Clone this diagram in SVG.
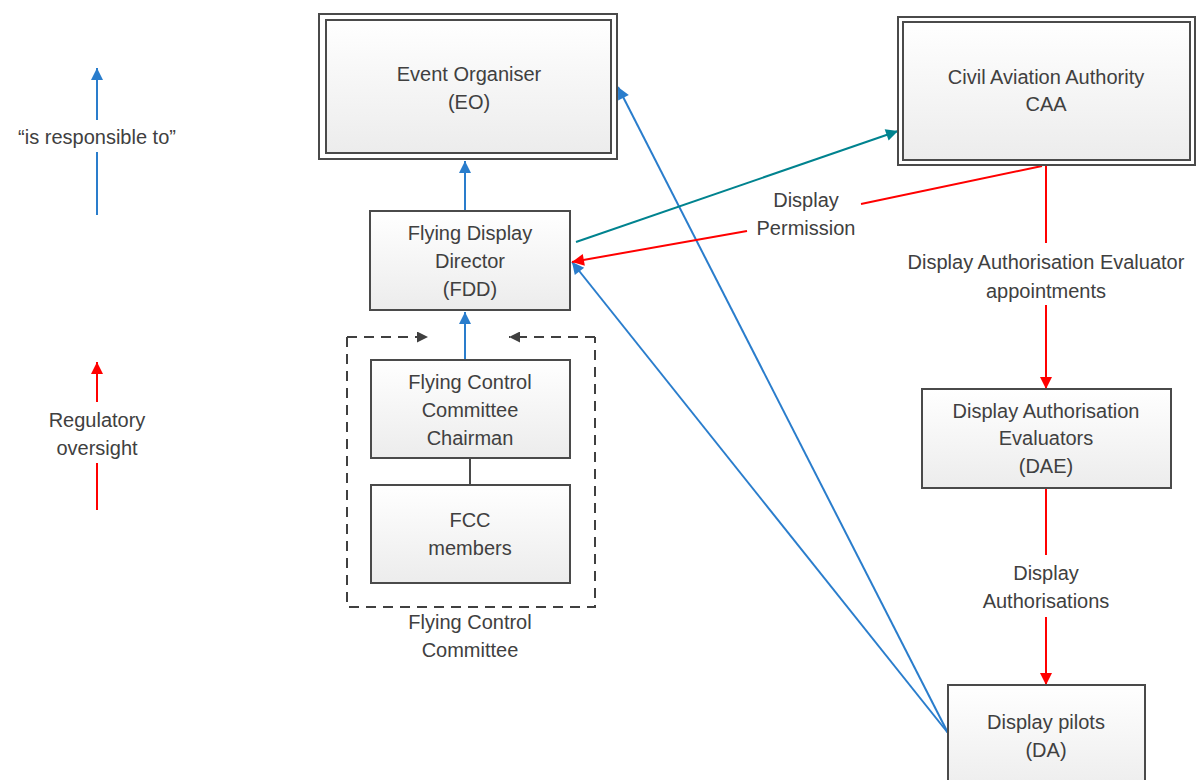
<svg xmlns="http://www.w3.org/2000/svg" width="1198" height="780" viewBox="0 0 1198 780">
<defs>
<linearGradient id="g" x1="0" y1="0" x2="0" y2="1"><stop offset="0" stop-color="#ffffff"/><stop offset="1" stop-color="#ececec"/></linearGradient>
<marker id="ab" viewBox="0 0 10 10" refX="10" refY="5" markerWidth="14" markerHeight="12" markerUnits="userSpaceOnUse" orient="auto"><path d="M0,0 L10,5 L0,10 z" fill="#2a7dcc"/></marker>
<marker id="ar" viewBox="0 0 10 10" refX="10" refY="5" markerWidth="14" markerHeight="12" markerUnits="userSpaceOnUse" orient="auto"><path d="M0,0 L10,5 L0,10 z" fill="#ff0000"/></marker>
<marker id="at" viewBox="0 0 10 10" refX="10" refY="5" markerWidth="14" markerHeight="12" markerUnits="userSpaceOnUse" orient="auto"><path d="M0,0 L10,5 L0,10 z" fill="#00838f"/></marker>
<marker id="ag" viewBox="0 0 10 10" refX="10" refY="5" markerWidth="13" markerHeight="11" markerUnits="userSpaceOnUse" orient="auto"><path d="M0,0 L10,5 L0,10 z" fill="#404040"/></marker>
</defs>
<style>
text{font-family:"Liberation Sans",Arial,sans-serif;font-size:20px;fill:#404040;text-anchor:middle}
.box{fill:url(#g);stroke:#4a4a4a;stroke-width:2}
.outer{fill:#fff;stroke:#4a4a4a;stroke-width:2}
.blue{stroke:#2a7dcc;stroke-width:2;fill:none}
.red{stroke:#ff0000;stroke-width:2;fill:none}
.teal{stroke:#00838f;stroke-width:2;fill:none}
.dash{stroke:#404040;stroke-width:2;fill:none;stroke-dasharray:10,7}
</style>
<rect width="1198" height="780" fill="#fff"/>
<g id="legend">
<line class="blue" x1="97" y1="215" x2="97" y2="152"/>
<line class="blue" x1="97" y1="120" x2="97" y2="68" marker-end="url(#ab)"/>
<text x="97" y="144">“is responsible to”</text>
<line class="red" x1="97" y1="510" x2="97" y2="463"/>
<line class="red" x1="97" y1="402" x2="97" y2="362" marker-end="url(#ar)"/>
<text x="97" y="427">Regulatory</text>
<text x="97" y="455">oversight</text>
</g>
<g id="connectors">
<line class="blue" x1="465" y1="211" x2="465" y2="161" marker-end="url(#ab)"/>
<line class="blue" x1="465" y1="360" x2="465" y2="312" marker-end="url(#ab)"/>
<line x1="470" y1="458" x2="470" y2="485" stroke="#4a4a4a" stroke-width="2"/>
<line class="blue" x1="948" y1="733" x2="618" y2="87" marker-end="url(#ab)"/>
<line class="blue" x1="948" y1="733" x2="572" y2="262" marker-end="url(#ab)"/>
<line class="teal" x1="576" y1="242" x2="898" y2="131" marker-end="url(#at)"/>
<line class="red" x1="1042" y1="166" x2="861" y2="204"/>
<line class="red" x1="747" y1="231" x2="572" y2="262" marker-end="url(#ar)"/>
<line class="red" x1="1046" y1="166" x2="1046" y2="243"/>
<line class="red" x1="1046" y1="305" x2="1046" y2="389" marker-end="url(#ar)"/>
<line class="red" x1="1046" y1="489" x2="1046" y2="555"/>
<line class="red" x1="1046" y1="617" x2="1046" y2="685" marker-end="url(#ar)"/>
<text x="806" y="207">Display</text>
<text x="806" y="235">Permission</text>
<text x="1046" y="269">Display Authorisation Evaluator</text>
<text x="1046" y="298">appointments</text>
<text x="1046" y="580">Display</text>
<text x="1046" y="608">Authorisations</text>
</g>
<g id="eo">
<rect class="outer" x="319" y="14" width="298" height="145"/>
<rect class="box" x="326" y="20" width="285" height="133"/>
<text x="469" y="81">Event Organiser</text>
<text x="469" y="109">(EO)</text>
</g>
<g id="caa">
<rect class="outer" x="898" y="17" width="297" height="148"/>
<rect class="box" x="903" y="22" width="287" height="138"/>
<text x="1046" y="84">Civil Aviation Authority</text>
<text x="1046" y="111">CAA</text>
</g>
<g id="fdd">
<rect class="box" x="370" y="211" width="200" height="99"/>
<text x="470" y="240">Flying Display</text>
<text x="470" y="268">Director</text>
<text x="470" y="296">(FDD)</text>
</g>
<g id="fcc">
<path class="dash" d="M347,337 L347,607 L595,607 L595,337"/>
<line class="dash" x1="347" y1="337" x2="428" y2="337" marker-end="url(#ag)"/>
<line class="dash" x1="595" y1="337" x2="509" y2="337" marker-end="url(#ag)"/>
<text x="470" y="629">Flying Control</text>
<text x="470" y="657">Committee</text>
</g>
<g id="fccc">
<rect class="box" x="371" y="360" width="199" height="98"/>
<text x="470" y="389">Flying Control</text>
<text x="470" y="417">Committee</text>
<text x="470" y="445">Chairman</text>
</g>
<g id="fccm">
<rect class="box" x="371" y="485" width="199" height="98"/>
<text x="470" y="527">FCC</text>
<text x="470" y="555">members</text>
</g>
<g id="dae">
<rect class="box" x="922" y="389" width="249" height="99"/>
<text x="1046" y="418">Display Authorisation</text>
<text x="1046" y="445">Evaluators</text>
<text x="1046" y="473">(DAE)</text>
</g>
<g id="da">
<rect class="box" x="948" y="685" width="197" height="110"/>
<text x="1046" y="729">Display pilots</text>
<text x="1046" y="757">(DA)</text>
</g>
</svg>
